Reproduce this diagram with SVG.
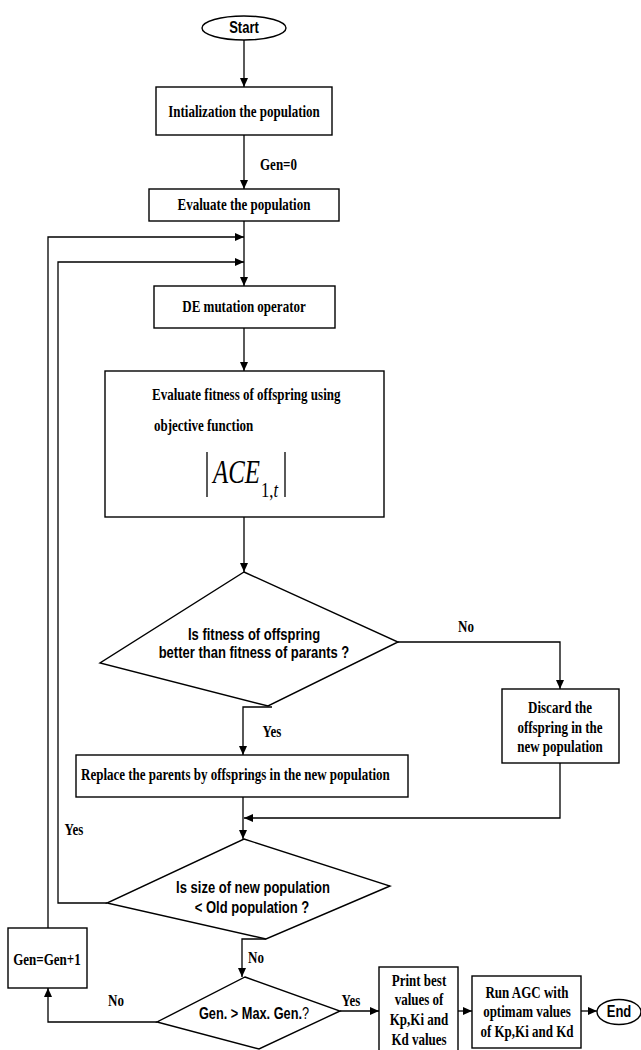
<svg xmlns="http://www.w3.org/2000/svg" width="641" height="1050" viewBox="0 0 641 1050">
<style>
.shape{fill:#fff;stroke:#000;stroke-width:1.4}
.ln{fill:none;stroke:#000;stroke-width:1.3}
.tr{font-family:"Liberation Serif","Times New Roman",serif;font-weight:bold;font-size:17px;fill:#000}
.ar{font-family:"Liberation Sans",Arial,sans-serif;font-weight:bold;font-size:17px;fill:#000}
.c{text-anchor:middle}
.it{font-family:"Liberation Serif","Times New Roman",serif;font-style:italic;fill:#000}
</style>
<defs>
<marker id="ah" markerUnits="userSpaceOnUse" markerWidth="9" markerHeight="8" refX="9" refY="4" orient="auto">
<path d="M0,0 L9,4 L0,8 z" fill="#000"/>
</marker>
</defs>
<rect width="641" height="1050" fill="#fff"/>

<g id="connectors">
<path class="ln" d="M244,40 V87" marker-end="url(#ah)"/>
<path class="ln" d="M244,135 V189" marker-end="url(#ah)"/>
<path class="ln" d="M244,221 V286" marker-end="url(#ah)"/>
<path class="ln" d="M48,928 V237 H244" marker-end="url(#ah)"/>
<path class="ln" d="M107,903 H58 V262 H244" marker-end="url(#ah)"/>
<path class="ln" d="M244,328 V371" marker-end="url(#ah)"/>
<path class="ln" d="M244,517 V572" marker-end="url(#ah)"/>
<path class="ln" d="M398,642 H560 V689" marker-end="url(#ah)"/>
<path class="ln" d="M272,707 H243 V755" marker-end="url(#ah)"/>
<path class="ln" d="M243,797 V839" marker-end="url(#ah)"/>
<path class="ln" d="M560,763 V818 H244" marker-end="url(#ah)"/>
<path class="ln" d="M266,939 H242 V977" marker-end="url(#ah)"/>
<path class="ln" d="M157,1022 H48 V988" marker-end="url(#ah)"/>
<path class="ln" d="M340,1011 H379" marker-end="url(#ah)"/>
<path class="ln" d="M458,1011 H472" marker-end="url(#ah)"/>
<path class="ln" d="M581,1011 H597" marker-end="url(#ah)"/>
<text class="tr" transform="translate(260,170) scale(0.765,1)">Gen=0</text>
<text class="tr c" transform="translate(466,632) scale(0.765,1)">No</text>
<text class="tr c" transform="translate(272,737) scale(0.765,1)">Yes</text>
<text class="tr c" transform="translate(74,835) scale(0.765,1)">Yes</text>
<text class="tr c" transform="translate(256,963) scale(0.765,1)">No</text>
<text class="tr c" transform="translate(116,1006) scale(0.765,1)">No</text>
<text class="tr c" transform="translate(351,1006) scale(0.765,1)">Yes</text>
</g>

<g id="start">
<ellipse class="shape" cx="244" cy="28" rx="42" ry="12"/>
<text class="ar c" transform="translate(244,33) scale(0.765,1)">Start</text>
</g>

<g id="init">
<rect class="shape" x="156" y="87" width="176" height="48"/>
<text class="tr c" transform="translate(244,117) scale(0.765,1)">Intialization the population</text>
</g>

<g id="evaluate">
<rect class="shape" x="149" y="189" width="190" height="32"/>
<text class="tr c" transform="translate(244,210) scale(0.765,1)">Evaluate the population</text>
</g>

<g id="mutation">
<rect class="shape" x="154" y="286" width="181" height="42"/>
<text class="tr c" transform="translate(244,312) scale(0.765,1)">DE mutation operator</text>
</g>

<g id="fitness">
<rect class="shape" x="105" y="371" width="279" height="146"/>
<text class="tr" transform="translate(152,400) scale(0.765,1)">Evaluate fitness of offspring using</text>
<text class="tr" transform="translate(154,431) scale(0.765,1)">objective function</text>
<line class="ln" x1="207" y1="452" x2="207" y2="497"/>
<line class="ln" x1="285" y1="452" x2="285" y2="497"/>
<text class="it" font-size="34" transform="translate(213,483) scale(0.73,1)">ACE</text>
<text font-family="Liberation Serif, Times New Roman, serif" font-size="20" transform="translate(261,497) scale(0.83,1)">1,<tspan font-style="italic">t</tspan></text>
</g>

<g id="decision1">
<polygon class="shape" points="244,572 398,642 268,706 100,663"/>
<text class="ar c" transform="translate(254,640) scale(0.765,1)">Is fitness of offspring</text>
<text class="ar c" transform="translate(254,658) scale(0.765,1)">better than fitness of parants ?</text>
</g>

<g id="discard">
<rect class="shape" x="502" y="689" width="117" height="74"/>
<text class="tr c" transform="translate(560,713) scale(0.765,1)">Discard the</text>
<text class="tr c" transform="translate(560,733) scale(0.765,1)">offspring in the</text>
<text class="tr c" transform="translate(560,752) scale(0.765,1)">new population</text>
</g>

<g id="replace">
<rect class="shape" x="76" y="755" width="332" height="42"/>
<text class="tr" transform="translate(81,780) scale(0.765,1)">Replace the parents by offsprings in the new population</text>
</g>

<g id="decision2">
<polygon class="shape" points="244,839 390,886 266,939 107,903"/>
<text class="ar c" transform="translate(253,893) scale(0.765,1)">Is size of new population</text>
<text class="ar c" transform="translate(252,913) scale(0.765,1)">&lt; Old population ?</text>
</g>

<g id="gencount">
<rect class="shape" x="8" y="928" width="79" height="60"/>
<text class="tr c" transform="translate(47,965) scale(0.765,1)">Gen=Gen+1</text>
</g>

<g id="decision3">
<polygon class="shape" points="245,977 340,1011 259,1049 157,1022"/>
<text class="ar c" font-size="16" transform="translate(254,1019) scale(0.75,1)">Gen. &gt; Max. Gen.<tspan font-weight="normal">?</tspan></text>
</g>

<g id="print">
<rect class="shape" x="379" y="967" width="79" height="90"/>
<text class="tr c" transform="translate(419,986) scale(0.765,1)">Print best</text>
<text class="tr c" transform="translate(419,1005) scale(0.765,1)">values of</text>
<text class="tr c" transform="translate(419,1025) scale(0.765,1)">Kp,Ki and</text>
<text class="tr c" transform="translate(419,1045) scale(0.765,1)">Kd values</text>
</g>

<g id="run">
<rect class="shape" x="472" y="976" width="109" height="72"/>
<text class="tr c" transform="translate(527,998) scale(0.765,1)">Run AGC with</text>
<text class="tr c" transform="translate(527,1017) scale(0.765,1)">optimam values</text>
<text class="tr c" transform="translate(527,1037) scale(0.765,1)">of Kp,Ki and Kd</text>
</g>

<g id="end">
<ellipse class="shape" cx="619" cy="1012" rx="22" ry="12.5"/>
<text class="ar c" transform="translate(619,1017) scale(0.765,1)">End</text>
</g>
</svg>
